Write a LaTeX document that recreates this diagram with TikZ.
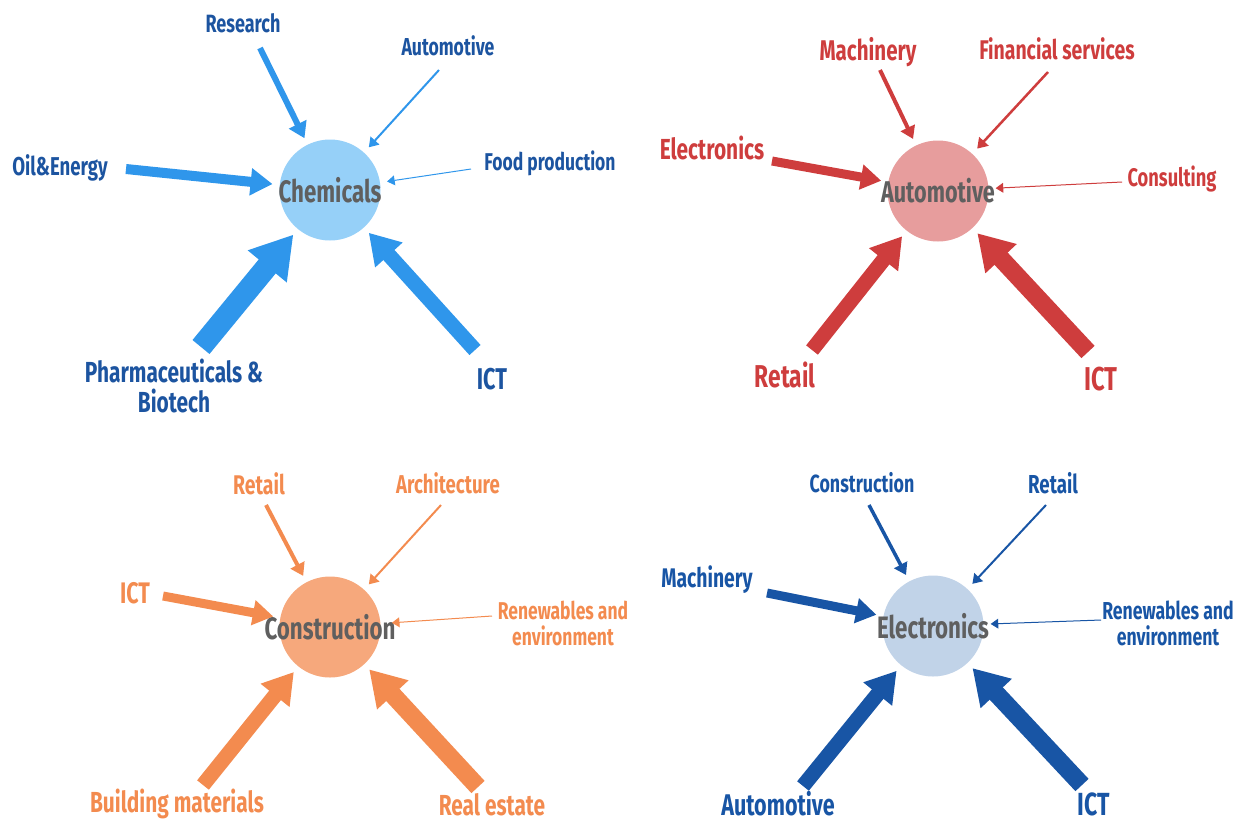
\documentclass[tikz,border=0pt]{standalone}
\usepackage{fontspec}
\setmainfont[FakeStretch=0.72]{Fira Sans}
\usetikzlibrary{arrows.meta}

\definecolor{chemArrow}{HTML}{2F96EB}
\definecolor{chemText}{HTML}{1C54A0}
\definecolor{chemFill}{HTML}{96D0F8}
\definecolor{autoArrow}{HTML}{CE3D3D}
\definecolor{autoFill}{HTML}{E79D9D}
\definecolor{consArrow}{HTML}{F38B4F}
\definecolor{consFill}{HTML}{F6A87C}
\definecolor{elecArrow}{HTML}{1855A5}
\definecolor{elecFill}{HTML}{C1D3E8}
\definecolor{hubText}{HTML}{5F5F5F}

\begin{document}
\begin{tikzpicture}[x=1pt,y=-1pt,
    hub/.style={circle,minimum size=101pt,inner sep=0pt,text=hubText,font=\bfseries\fontsize{#1}{#1}\selectfont},
    sector/.style={align=center,inner sep=0pt,font=\bfseries\fontsize{#1}{26}\selectfont},
    flow/.style={-{Triangle[length=6pt 1.6,width=8pt 1.8]},shorten >=7pt}]
    \useasboundingbox (0,0) rectangle (1242,823);

    % Chemicals
    \node[hub=31,fill=chemFill] (chem) at (330,190) {\makebox[0pt]{Chemicals}};
    \begin{scope}[every node/.style={text=chemText}]
        \node[sector=25] (chemRes) at (243,23) {Research};
        \node[sector=24.5] (chemAuto) at (448,46) {Automotive};
        \node[sector=24.3] (chemFood) at (550,163) {Food production};
        \node[sector=25.8] (chemOil) at (60,168) {Oil\&Energy};
        \node[sector=29,font=\bfseries\fontsize{29}{30}\selectfont] (chemPharma) at (174,386) {Pharmaceuticals \&\\Biotech};
        \node[sector=30] (chemIct) at (492,379) {ICT};
    \end{scope}
    \coordinate (chemResS) at (260,48);
    \coordinate (chemAutoS) at (439,70);
    \coordinate (chemFoodS) at (471,169);
    \coordinate (chemOilS) at (126,169);
    \coordinate (chemPharmaS) at (201,347);
    \coordinate (chemIctS) at (475,350);
    \begin{scope}[chemArrow]
        \draw[flow,line width=6] (chemResS) -- (chem);
        \draw[flow,line width=2] (chemAutoS) -- (chem);
        \draw[flow,line width=1] (chemFoodS) -- (chem);
        \draw[flow,line width=10] (chemOilS) -- (chem);
        \draw[flow,line width=22] (chemPharmaS) -- (chem);
        \draw[flow,line width=15] (chemIctS) -- (chem);
    \end{scope}

    % Automotive
    \node[hub=30,fill=autoFill] (auto) at (938,191) {\makebox[0pt]{Automotive}};
    \begin{scope}[every node/.style={text=autoArrow}]
        \node[sector=28.5] (autoMach) at (868,52) {Machinery};
        \node[sector=27] (autoFin) at (1057,49) {Financial services};
        \node[sector=29] (autoElec) at (712,148) {Electronics};
        \node[sector=25.4] (autoCons) at (1172,179) {Consulting};
        \node[sector=31.6] (autoRetail) at (785,375) {Retail};
        \node[sector=33] (autoIct) at (1101,379) {ICT};
    \end{scope}
    \coordinate (autoMachS) at (880,70);
    \coordinate (autoFinS) at (1048,72);
    \coordinate (autoElecS) at (772,161);
    \coordinate (autoConsS) at (1122,182);
    \coordinate (autoRetailS) at (812,350);
    \coordinate (autoIctS) at (1088,352);
    \begin{scope}[autoArrow]
        \draw[flow,line width=4] (autoMachS) -- (auto);
        \draw[flow,line width=2.5] (autoFinS) -- (auto);
        \draw[flow,line width=9] (autoElecS) -- (auto);
        \draw[flow,line width=1] (autoConsS) -- (auto);
        \draw[flow,line width=15] (autoRetailS) -- (auto);
        \draw[flow,line width=18] (autoIctS) -- (auto);
    \end{scope}

    % Construction
    \node[hub=31,fill=consFill] (cons) at (330,627) {\makebox[0pt]{Construction}};
    \begin{scope}[every node/.style={text=consArrow}]
        \node[sector=27] (consRetail) at (259,484) {Retail};
        \node[sector=25.8] (consArch) at (448,483) {Architecture};
        \node[sector=29.7] (consIct) at (135,593) {ICT};
        \node[sector=24.3] (consRenew) at (563,623) {Renewables and\\environment};
        \node[sector=29] (consBuild) at (177,804) {Building materials};
        \node[sector=29] (consReal) at (492,805) {Real estate};
    \end{scope}
    \coordinate (consRetailS) at (266,505);
    \coordinate (consArchS) at (441,505);
    \coordinate (consIctS) at (163,596);
    \coordinate (consRenewS) at (492,616);
    \coordinate (consBuildS) at (203,785);
    \coordinate (consRealS) at (478,787);
    \begin{scope}[consArrow]
        \draw[flow,line width=4] (consRetailS) -- (cons);
        \draw[flow,line width=2] (consArchS) -- (cons);
        \draw[flow,line width=9] (consIctS) -- (cons);
        \draw[flow,line width=1,shorten >=62pt] (consRenewS) -- (cons.center);
        \draw[flow,line width=15] (consBuildS) -- (cons);
        \draw[flow,line width=18] (consRealS) -- (cons);
    \end{scope}

    % Electronics
    \node[hub=31,fill=elecFill] (elec) at (933,626) {\makebox[0pt]{Electronics}};
    \begin{scope}[every node/.style={text=elecArrow}]
        \node[sector=24.8] (elecCons) at (862,483) {Construction};
        \node[sector=26] (elecRetail) at (1053,483) {Retail};
        \node[sector=26.9] (elecMach) at (707,580) {Machinery};
        \node[sector=24.5] (elecRenew) at (1168,623) {Renewables and\\environment};
        \node[sector=29.9] (elecAuto) at (778,804) {Automotive};
        \node[sector=32] (elecIct) at (1094,804) {ICT};
    \end{scope}
    \coordinate (elecConsS) at (869,505);
    \coordinate (elecRetailS) at (1046,505);
    \coordinate (elecMachS) at (767,593);
    \coordinate (elecRenewS) at (1101,620);
    \coordinate (elecAutoS) at (803,786);
    \coordinate (elecIctS) at (1082,785);
    \begin{scope}[elecArrow]
        \draw[flow,line width=3.5] (elecConsS) -- (elec);
        \draw[flow,line width=2] (elecRetailS) -- (elec);
        \draw[flow,line width=9] (elecMachS) -- (elec);
        \draw[flow,line width=1] (elecRenewS) -- (elec);
        \draw[flow,line width=15] (elecAutoS) -- (elec);
        \draw[flow,line width=18] (elecIctS) -- (elec);
    \end{scope}
\end{tikzpicture}
\end{document}
